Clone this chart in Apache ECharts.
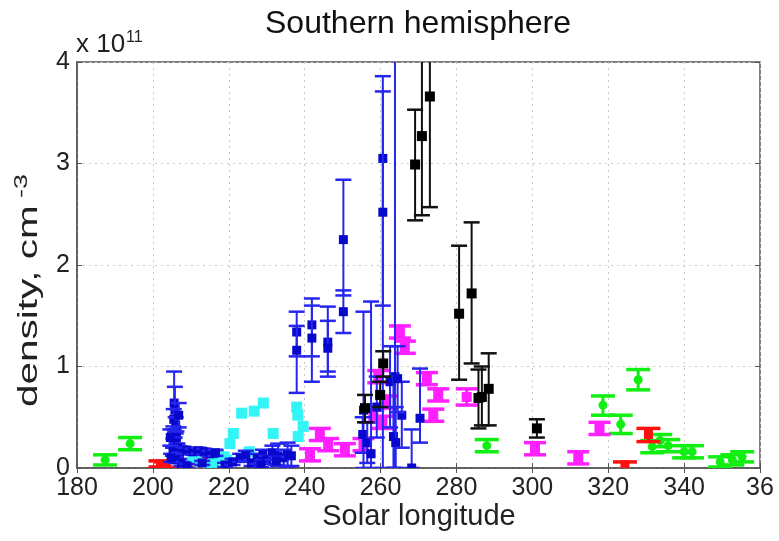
<!DOCTYPE html>
<html><head><meta charset="utf-8">
<script src="https://cdn.jsdelivr.net/npm/echarts@6/dist/echarts.min.js"></script>
<style>html,body{margin:0;padding:0;background:#fff}#c{width:779px;height:541px}</style>
</head><body><div id="c"></div>
<script>
// tick labels (last one is cut to "36" in the source)
const xTicks = [180,200,220,240,260,280,300,320,340,360];
const xTickLabels = ['180','200','220','240','260','280','300','320','340','36'];
const yTicks = [0,1,2,3,4];
// each row: [solar longitude, density (1e11 cm^-3), low, high]
const greenData = [
  [187.4,0.08,0.03,0.13],[194.0,0.24,0.18,0.30],[288.0,0.22,0.16,0.28],
  [318.6,0.62,0.52,0.71],[323.3,0.43,0.34,0.52],[327.9,0.87,0.77,0.97],
  [331.6,0.21,0.15,0.27],[333.7,0.27,0.21,0.33],[335.8,0.22,0.16,0.28],
  [340.0,0.16,0.10,0.22],[342.1,0.16,0.10,0.22],[349.5,0.06,0.01,0.11],
  [352.7,0.08,0.03,0.13],[355.3,0.11,0.06,0.16]
];
const redData = [
  [202.0,0.04,0.01,0.07],[203.5,0.03,0.00,0.06],[209.8,0.01,0.00,0.03],[215.5,0.13,0.10,0.16],
  [324.4,0.03,-0.02,0.06],[330.6,0.33,0.26,0.39]
];
const cyanData = [
  [210.6,0.08],[214.6,0.03],[216.0,0.05],[218.6,0.11],[219.5,0.08],[220.3,0.24],
  [221.2,0.34],[223.4,0.54],[225.4,0.16],[226.7,0.56],[229.1,0.64],[231.7,0.34],
  [237.9,0.60],[238.2,0.52],[239.6,0.41],[238.3,0.31],[212.0,0.06]
];
const blueData = [
  [205.6,0.64,0.30,0.95],[205.8,0.57,0.35,0.80],[205.5,0.48,0.38,0.58],[206.0,0.42,0.34,0.50],
  [205.4,0.35,0.29,0.41],[206.2,0.30,0.24,0.36],[205.7,0.25,0.20,0.30],[206.5,0.20,0.16,0.24],
  [205.3,0.16,0.12,0.20],[207.0,0.12,0.09,0.15],[206.0,0.08,0.05,0.11],[207.5,0.04,0.02,0.06],
  [204.6,0.30,0.22,0.38],[204.8,0.10,0.06,0.14],[206.8,0.52,0.40,0.64],
  [208.0,0.18,0.15,0.21],[209.0,0.17,0.14,0.20],[210.5,0.16,0.13,0.19],[212.0,0.17,0.14,0.20],
  [213.5,0.16,0.13,0.19],[215.0,0.14,0.11,0.17],[216.5,0.15,0.12,0.18],[209.0,0.02,0.00,0.04],
  [213.0,0.05,0.03,0.07],
  [219.0,0.03,0.01,0.05],[221.0,0.06,0.03,0.09],[223.0,0.10,0.06,0.14],[224.5,0.12,0.07,0.17],
  [226.0,0.05,0.02,0.08],[227.5,0.09,0.04,0.14],[229.0,0.13,0.08,0.18],[230.0,0.08,0.04,0.12],
  [231.5,0.15,0.08,0.22],[233.0,0.12,0.02,0.24],[234.5,0.10,0.02,0.18],[235.5,0.13,0.01,0.25],
  [236.5,0.12,0.02,0.22],[228.5,0.03,0.01,0.05],[232.5,0.07,0.03,0.11],
  [237.9,1.34,1.10,1.54],[237.9,1.16,0.74,1.40],[241.9,1.41,1.10,1.67],[241.9,1.28,0.85,1.60],
  [246.1,1.24,0.95,1.59],[246.1,1.18,0.90,1.45],[250.2,2.25,1.70,2.84],[250.2,1.54,1.33,1.75],
  [260.6,3.05,1.60,3.86],[260.6,2.52,0.00,3.71],[263.8,0.90,0.00,5.00],
  [255.5,0.57,0.00,1.54],[255.3,0.33,0.15,0.50],[256.5,0.25,0.05,0.45],[257.5,0.14,0.00,1.64],
  [259.0,0.60,0.30,0.90],[262.5,0.85,0.40,1.20],[263.4,0.31,0.00,0.90],[264.0,0.25,0.00,0.60],
  [265.6,0.52,0.20,0.85],[264.5,0.88,0.55,1.20],[270.4,0.49,0.25,0.98],[268.2,0.00,0.00,0.38]
];
const blackData = [
  [255.9,0.59,0.45,0.72],[259.9,0.72,0.60,0.85],[260.7,1.03,0.90,1.15],
  [269.1,2.99,2.44,3.53],[270.9,3.27,2.49,4.30],[273.0,3.66,2.57,4.80],
  [280.7,1.52,0.87,2.19],[284.0,1.72,1.03,2.42],[285.8,0.69,0.39,0.97],
  [286.7,0.70,0.42,1.00],[288.5,0.78,0.42,1.13],[301.2,0.39,0.30,0.48]
];
const magentaData = [
  [241.4,0.13,0.07,0.19],[244.0,0.33,0.27,0.39],[246.2,0.23,0.17,0.29],[250.6,0.18,0.12,0.24],
  [255.5,0.23,0.17,0.29],[258.1,0.51,0.45,0.57],[259.4,0.90,0.84,0.96],[260.5,0.45,0.39,0.51],
  [261.5,0.65,0.59,0.71],[265.1,1.34,1.28,1.40],[266.4,1.19,1.13,1.25],[272.2,0.88,0.82,0.94],
  [273.9,0.52,0.46,0.58],[275.2,0.72,0.66,0.78],[282.7,0.70,0.62,0.78],[300.7,0.19,0.13,0.25],
  [312.1,0.10,0.04,0.16],[317.7,0.39,0.33,0.45]
];

const YMIN = 0, YMAX = 4;
function makeRender(color, markerColor, capHalf, size, lineW, circle) {
  return function (params, api) {
    const x = api.value(0), y = api.value(1);
    const lo = api.value(2), hi = api.value(3);
    const hasErr = lineW > 0 && !isNaN(lo) && !isNaN(hi);
    const children = [];
    if (hasErr) {
      const lo2 = Math.max(YMIN, lo), hi2 = Math.min(YMAX, hi);
      const pLo = api.coord([x, lo2]), pHi = api.coord([x, hi2]);
      children.push({type:'line', shape:{x1:pLo[0],y1:pLo[1],x2:pHi[0],y2:pHi[1]}, style:{stroke:color,lineWidth:lineW}});
      if (lo >= YMIN) children.push({type:'line', shape:{x1:pLo[0]-capHalf,y1:pLo[1],x2:pLo[0]+capHalf,y2:pLo[1]}, style:{stroke:color,lineWidth:lineW+0.5}});
      if (hi <= YMAX) children.push({type:'line', shape:{x1:pHi[0]-capHalf,y1:pHi[1],x2:pHi[0]+capHalf,y2:pHi[1]}, style:{stroke:color,lineWidth:lineW+0.5}});
    }
    const c = api.coord([x, y]);
    if (y <= YMAX) {
      if (circle) children.push({type:'circle', shape:{cx:c[0],cy:c[1],r:size/2}, style:{fill:markerColor}});
      else children.push({type:'rect', shape:{x:c[0]-size/2,y:c[1]-size/2,width:size,height:size}, style:{fill:markerColor}});
    }
    return {type:'group', children};
  };
}
function errSeries(data, color, markerColor, capHalf, size, lineW, circle) {
  return {type:'custom', data, renderItem: makeRender(color, markerColor, capHalf, size, lineW, circle),
    encode:{x:0,y:1}, clip:true, z:3};
}

const FONT = '"Liberation Sans", Arial, Helvetica, sans-serif';
const chart = echarts.init(document.getElementById('c'), null, {renderer:'canvas'});
const axisFont = {fontFamily:FONT, fontSize:25, color:'#222'};
chart.setOption({
  animation:false,
  grid:{left:77, right:19, top:62, bottom:73, show:true, borderColor:'#555', borderWidth:1.5, backgroundColor:'#fff'},
  xAxis:[{
    type:'value', min:180, max:360, interval:20,
    axisLine:{show:true, lineStyle:{color:'#555', width:1.5}},
    axisTick:{show:true, inside:true, length:5, lineStyle:{color:'#555'}},
    axisLabel:Object.assign({margin:8, formatter:function(v){const i=xTicks.indexOf(v);return i>=0?xTickLabels[i]:'';}}, axisFont),
    splitLine:{show:true, lineStyle:{color:'#c8c8c8', type:[2,4], width:1}}
  },{
    type:'value', position:'top', min:180, max:360, interval:20,
    axisLine:{show:false}, axisTick:{show:true, inside:true, length:5, lineStyle:{color:'#555'}},
    axisLabel:{show:false}, splitLine:{show:false}
  }],
  yAxis:[{
    type:'value', min:0, max:4, interval:1,
    axisLine:{show:true, lineStyle:{color:'#555', width:1.5}},
    axisTick:{show:true, inside:true, length:5, lineStyle:{color:'#555'}},
    axisLabel:Object.assign({margin:7, formatter:function(v){return yTicks.indexOf(v)>=0?String(v):'';}}, axisFont),
    splitLine:{show:true, lineStyle:{color:'#c8c8c8', type:[2,4], width:1}}
  },{
    type:'value', position:'right', min:0, max:4, interval:1,
    axisLine:{show:false}, axisTick:{show:true, inside:true, length:5, lineStyle:{color:'#555'}},
    axisLabel:{show:false}, splitLine:{show:false}
  }],
  graphic:[
    {type:'text', x:418, y:40, style:{text:'Southern hemisphere', font:'32px ' + FONT, fill:'#111', textAlign:'center', textVerticalAlign:'bottom', verticalAlign:'bottom'}},
    {type:'text', x:76, y:58, style:{text:'x 10', font:'26px ' + FONT, fill:'#222', textVerticalAlign:'bottom', verticalAlign:'bottom'}},
    {type:'text', x:126, y:46, style:{text:'11', font:'16px ' + FONT, fill:'#222', textVerticalAlign:'bottom', verticalAlign:'bottom'}},
    {type:'text', x:419, y:502, style:{text:'Solar longitude', font:'29px ' + FONT, fill:'#222', textAlign:'center'}},
    {type:'group', x:30, y:290, rotation:Math.PI/2, children:[
      {type:'text', x:-117, y:0, scaleX:1.5, style:{text:'density, cm', font:'27px ' + FONT, fill:'#222', textAlign:'left', textVerticalAlign:'middle', verticalAlign:'middle'}},
      {type:'text', x:92, y:-8, scaleX:1.5, style:{text:'-3', font:'18px ' + FONT, fill:'#222', textAlign:'left', textVerticalAlign:'middle', verticalAlign:'middle'}}
    ]}
  ],
  series:[
    errSeries(greenData, '#11ee11', '#11ee11', 12, 9, 3, true),
    errSeries(redData, '#ff1010', '#ff1010', 12, 9, 3, false),
    errSeries(cyanData, '#33f5f5', '#33f5f5', 0, 11, 0, false),
    errSeries(magentaData, '#ff20ff', '#ff20ff', 11, 10, 3, false),
    errSeries(blueData, '#2626f0', '#0808cc', 8, 9, 2, false),
    errSeries(blackData, '#111111', '#000000', 8, 10, 2, false)
  ]
});
</script></body></html>
